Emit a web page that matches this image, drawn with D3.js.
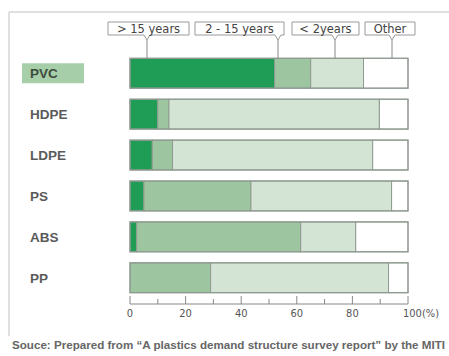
<!DOCTYPE html>
<html><head><meta charset="utf-8">
<script src="https://cdn.jsdelivr.net/npm/d3@7"></script>
<style>body{margin:0;background:#fff}svg{display:block}</style>
</head><body><svg id="c" width="449" height="356"></svg>
<script>
const categories = ["PVC","HDPE","LDPE","PS","ABS","PP"];
const seriesNames = ["> 15 years","2 - 15 years","< 2years","Other"];
const over15 = [52, 10, 8, 5, 2.4, 0];
const mid2to15 = [13, 4, 7.3, 38.5, 59, 29];
const under2 = [19, 75.7, 72, 50.6, 19.8, 64];
const other = [16, 10.3, 12.7, 5.9, 18.8, 7];
const tickValues = [0,20,40,60,80,100];
const tickLabels = ["0","20","40","60","80","100(%)"];
const sourceText = "Souce: Prepared from \u201CA plastics demand structure survey report\u201D   by the MITI";

const colors = ["#1f9d56","#9dc59f","#d3e4d5","#ffffff"];
const svg = d3.select("#c");
const x = d3.scaleLinear().domain([0,100]).range([130,408]);
const y = d3.scaleBand().domain(categories).range([53,298]).paddingInner(0.27).paddingOuter(0.13);

// frame
svg.append("line").attr("x1",9).attr("x2",449).attr("y1",12).attr("y2",12).attr("stroke","#d6d6d6").attr("stroke-width",1.5);
svg.append("line").attr("x1",9).attr("x2",9).attr("y1",12).attr("y2",336).attr("stroke","#d6d6d6").attr("stroke-width",1.5);

const table = categories.map((c,i)=>({cat:c, v:[over15[i],mid2to15[i],under2[i],other[i]]}));
table.forEach(d=>{
  let acc=0;
  d.segs=d.v.map((v,k)=>{const s={x0:acc,x1:acc+v,k};acc+=v;return s;});
});

const g = svg.append("g");
const rows = g.selectAll("g.row").data(table).join("g").attr("class","row");
rows.selectAll("rect").data(d=>d.segs.filter(s=>s.x1>s.x0).map(s=>({...s,cat:d.cat}))).join("rect")
  .attr("x",s=>x(s.x0)).attr("width",s=>x(s.x1)-x(s.x0))
  .attr("y",s=>y(s.cat)).attr("height",y.bandwidth())
  .attr("fill",s=>colors[s.k]).attr("stroke","#8f9a90").attr("stroke-width",1);
rows.append("rect").attr("x",x(0)).attr("width",x(100)-x(0)).attr("y",d=>y(d.cat)).attr("height",y.bandwidth())
  .attr("fill","none").attr("stroke","#8f9a90").attr("stroke-width",1.2);

// category labels
svg.append("rect").attr("x",22).attr("y",y("PVC")+y.bandwidth()/2-10).attr("width",62).attr("height",20).attr("fill","#a6cfa9");
svg.selectAll("text.cat").data(categories).join("text").attr("class","cat")
  .attr("x",30).attr("y",d=>y(d)+y.bandwidth()/2+5)
  .attr("font-family","Liberation Sans, Arial, sans-serif").attr("font-weight","bold").attr("font-size",13.5)
  .attr("fill",d=>d==="PVC"?"#3d4a3f":"#5a5a5a").text(d=>d);

// legend callouts
const boxes=[{x0:108,x1:189,px:147},{x0:195,x1:284,px:278},{x0:292,x1:359,px:335},{x0:365,x1:415,px:392}];
const lg = svg.append("g");
boxes.forEach((b,i)=>{
  const top=22,bot=35;
  lg.append("path").attr("d",`M${b.x0},${top}H${b.x1}V${bot}H${b.px+3}L${b.px},${bot+5}L${b.px-3},${bot}H${b.x0}Z`)
    .attr("fill","#fff").attr("stroke","#9a9a9a").attr("stroke-width",1);
  lg.append("line").attr("x1",b.px).attr("x2",b.px).attr("y1",bot+5).attr("y2",y("PVC")).attr("stroke","#888").attr("stroke-width",1);
  lg.append("text").attr("x",(b.x0+b.x1)/2).attr("y",33).attr("text-anchor","middle")
    .attr("font-family","DejaVu Sans, sans-serif").attr("font-size",11.5).attr("fill","#444").text(seriesNames[i]);
});

// axis
const axisY=304;
const ag=svg.append("g").attr("transform",`translate(0,${axisY})`);
ag.append("line").attr("x1",x(0)).attr("x2",x(100)).attr("stroke","#888");
ag.selectAll("line.t").data(d3.range(0,101,10)).join("line").attr("class","t")
  .attr("x1",d=>x(d)).attr("x2",d=>x(d)).attr("y1",0).attr("y2",d=>d%20===0?-8:-5).attr("stroke","#888");
ag.selectAll("text").data(tickValues).join("text")
  .attr("x",d=>x(d)).attr("y",13).attr("font-family","DejaVu Sans Condensed, DejaVu Sans, sans-serif")
  .attr("font-size",11).attr("fill","#555").attr("text-anchor",(d,i)=>i===tickValues.length-1?"start":"middle")
  .attr("dx",(d,i)=>i===tickValues.length-1?-5:0)
  .text((d,i)=>tickLabels[i]);

svg.append("text").attr("x",12).attr("y",349).attr("font-family","Liberation Sans, Arial, sans-serif")
  .attr("font-weight","bold").attr("font-size",10).attr("fill","#666")
  .attr("textLength",433).attr("lengthAdjust","spacingAndGlyphs").text(sourceText);
</script></body></html>
